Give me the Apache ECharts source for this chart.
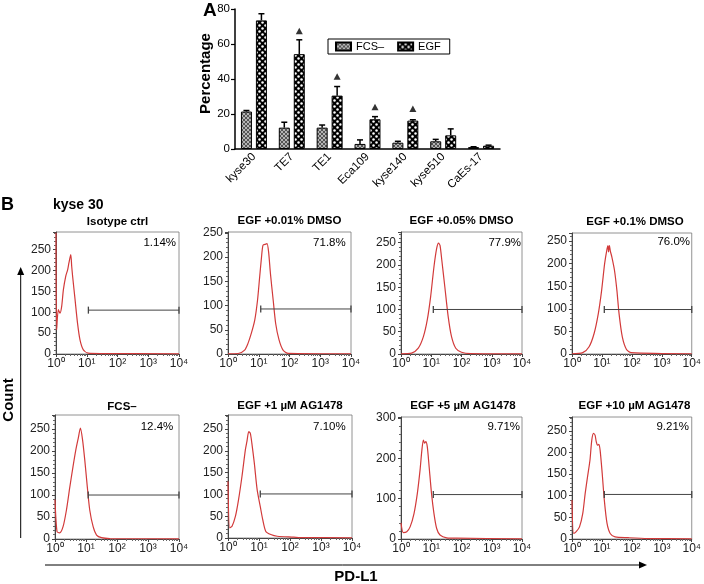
<!DOCTYPE html>
<html><head><meta charset="utf-8">
<script src="https://cdn.jsdelivr.net/npm/echarts@6.0.0/dist/echarts.min.js"></script>
<style>html,body{margin:0;padding:0;background:#fff}#c{width:704px;height:584px}</style>
</head><body><div id="c"></div><script>
// ---------- Panel A data ----------
const categories = ['kyse30', 'TE7', 'TE1', 'Eca109', 'kyse140', 'kyse510', 'CaEs-17'];
const fcsValues = [21.4, 12.2, 12.2, 2.9, 3.6, 4.4, 1.1];
const fcsErrors = [0.6, 3.1, 1.5, 2.3, 0.8, 1.1, 0.2];
const egfValues = [73.5, 54.2, 30.5, 17.0, 16.2, 7.8, 1.9];
const egfErrors = [3.8, 8.2, 5.2, 1.5, 0.5, 3.7, 0.3];
const markerHeights = [82, 67.5, 41.5, 24, 23, null, null];
const seriesNames = ['FCS–', 'EGF'];

// ---------- Panel B data (PD-L1 intensity, count) ----------
const histIsotype = [[1,290],[1.05,58],[1.19,106],[1.35,98],[1.53,114],[1.74,154],[2.07,186],[2.4,202],[2.63,218],[3.02,238],[3.24,210],[3.47,186],[4.17,130],[5.01,74],[6.03,34],[7.76,10],[11.2,2],[30,1],[10000,0.5]];
const histDmso001 = [[1,0.5],[2.14,1],[3.47,8],[4.47,22],[5.75,43],[7.41,70],[9.12,111],[10.7,159],[12.3,200],[13.8,225],[17.0,227],[18.6,228],[20.9,211],[24.0,166],[29.5,111],[35.5,63],[45.7,29],[61.7,8],[91.2,1.4],[10000,0.5]];
const histDmso005 = [[1,0.5],[2.24,2],[3.72,13],[5.5,39],[7.41,77],[9.55,129],[12.3,196],[15.1,237],[17.4,249],[19.5,244],[22.4,210],[28.2,150],[36.3,84],[46.8,39],[64.6,13],[100,4],[200,1],[10000,0.5]];
const histDmso01 = [[1,0.5],[2.29,3],[3.72,16],[5.5,46],[7.59,90],[9.77,141],[12.3,200],[14.8,233],[15.9,240],[16.6,226],[17.8,240],[19.1,228],[21.4,215],[26.3,185],[31.6,141],[37.2,90],[47.9,38],[66.1,10],[95.5,3],[10000,0.5]];
const histFcs = [[1,90],[1.16,17],[1.41,14],[1.82,28],[2.34,66],[3.02,119],[3.8,164],[4.68,202],[5.62,229],[6.61,252],[7.76,225],[9.12,180],[11.0,119],[13.2,66],[17.0,28],[21.9,9],[31.6,3],[58.9,1],[10000,0.5]];
const histAg1 = [[1,130],[1.13,23],[1.35,27],[1.74,50],[2.19,88],[2.82,141],[3.63,202],[4.07,221],[4.68,244],[5.25,240],[5.89,217],[7.08,171],[8.71,111],[11.0,72],[13.2,42],[16.6,15],[24.0,8],[38.9,4],[132,2],[214,1],[10000,0.5]];
const histAg5 = [[1,40],[1.19,16],[1.55,18],[2.0,30],[2.69,63],[3.47,113],[4.27,171],[4.9,220],[5.5,245],[6.03,237],[6.61,241],[7.41,228],[8.51,179],[10.2,113],[12.3,63],[15.1,26],[19.5,10],[32.4,3],[69.2,2],[10000,0.5]];
const histAg10 = [[1,90],[1.13,13],[1.38,17],[1.78,28],[2.29,59],[2.75,105],[3.31,144],[3.98,182],[4.57,228],[5.25,244],[5.89,240],[6.46,225],[7.08,217],[7.94,219],[8.71,205],[10.2,152],[12.0,90],[14.8,36],[19.1,12],[27.5,5],[75.9,3],[339,1],[10000,0.5]];

const panelTitles = ['Isotype ctrl', 'EGF +0.01% DMSO', 'EGF +0.05% DMSO', 'EGF +0.1% DMSO',
                     'FCS–', 'EGF +1 µM AG1478', 'EGF +5 µM AG1478', 'EGF +10 µM AG1478'];
const panelPercents = ['1.14%', '71.8%', '77.9%', '76.0%', '12.4%', '7.10%', '9.71%', '9.21%'];
const gateStarts = [11.3, 11.6, 11.7, 12.0, 11.8, 11.0, 11.7, 12.0];
const gateLevels = [105, 93, 100, 98.5, 100, 101, 110, 103];
const countMax = [292, 252, 274, 268, 282, 282, 302, 282];
const countInterval = [50, 50, 50, 50, 50, 50, 100, 50];
const logTickLabels = ['10⁰', '10¹', '10²', '10³', '10⁴'];
const histograms = [histIsotype, histDmso001, histDmso005, histDmso01, histFcs, histAg1, histAg5, histAg10];

// ---------- layout ----------
const FONT = '"Liberation Sans", Arial, Helvetica, sans-serif';
const histGrid = [
  {left:56, top:232, width:123, height:122},
  {left:228, top:232, width:123, height:122},
  {left:401, top:232, width:121, height:122},
  {left:572, top:233, width:123, height:121},
  {left:55, top:415, width:124, height:124},
  {left:228, top:415, width:124, height:123},
  {left:401, top:417, width:121, height:122},
  {left:572, top:417, width:123, height:122}
];
const titlePos = [[117.5,221.5],[289.5,220.7],[461.5,220.7],[635,221.5],[122,406.5],[290,406],[463,406],[634.5,406]];
const percentPos = [[176,242.7],[345.7,243],[521,242.7],[690,241.7],[173.3,427.3],[345.7,426.7],[520,426.7],[689,426.7]];

function makePattern(kind) {
  const c = document.createElement('canvas');
  if (kind === 'fcs') {
    c.width = 4; c.height = 4;
    const g = c.getContext('2d');
    g.fillStyle = '#b4b4b4'; g.fillRect(0, 0, 4, 4);
    g.fillStyle = '#555';
    [[0,0],[1,1],[2,2],[3,3],[3,0],[2,1],[1,2],[0,3]].forEach(p => g.fillRect(p[0], p[1], 1, 1));
  } else {
    c.width = 6; c.height = 6;
    const g = c.getContext('2d');
    g.fillStyle = '#000'; g.fillRect(0, 0, 6, 6);
    g.fillStyle = '#fff';
    [[1.5,1.5],[4.5,4.5]].forEach(p => { g.beginPath(); g.arc(p[0], p[1], 1.25, 0, Math.PI * 2); g.fill(); });
  }
  return {image: c, repeat: 'repeat'};
}

const grids = [], xAxes = [], yAxes = [], series = [];
histograms.forEach((h, i) => {
  grids.push(Object.assign({show: true, borderColor: '#777', borderWidth: 0.8, containLabel: false}, histGrid[i]));
  xAxes.push({
    type: 'log', logBase: 10, min: 1, max: 10000, gridIndex: i,
    axisLine: {show: true, lineStyle: {color: '#444', width: 1}},
    axisTick: {show: true, length: 3, lineStyle: {color: '#444'}},
    minorTick: {show: true, splitNumber: 9, length: 2, lineStyle: {color: '#666'}},
    splitLine: {show: false}, minorSplitLine: {show: false},
    axisLabel: {fontFamily: FONT, fontSize: 12, color: '#222', margin: 4,
      formatter: v => logTickLabels[Math.round(Math.log10(v))] || ''}
  });
  const iv = countInterval[i];
  yAxes.push({
    type: 'value', min: 0, max: countMax[i], interval: iv, gridIndex: i,
    axisLine: {show: true, lineStyle: {color: '#444', width: 1}},
    axisTick: {show: true, length: 3, lineStyle: {color: '#444'}},
    minorTick: {show: true, splitNumber: 5, length: 2, lineStyle: {color: '#666'}},
    splitLine: {show: false},
    axisLabel: {fontFamily: FONT, fontSize: 12, color: '#222', margin: 5,
      formatter: v => (Math.abs(v % iv) < 1e-6 ? String(v) : '')}
  });
  series.push({
    type: 'line', xAxisIndex: i, yAxisIndex: i, data: h, showSymbol: false, smooth: 0.25,
    lineStyle: {color: '#d23a3a', width: 1.2}, itemStyle: {color: '#d23a3a'}, silent: true, z: 3
  });
  series.push({
    type: 'line', xAxisIndex: i, yAxisIndex: i, clip: false,
    data: [[gateStarts[i], gateLevels[i]], [10000, gateLevels[i]]],
    symbol: 'rect', symbolSize: [1.3, 7], showSymbol: true,
    lineStyle: {color: '#444', width: 1}, itemStyle: {color: '#444'}, silent: true, z: 4
  });
});

// Panel A grid (index 8)
grids.push({left: 235, top: 9, width: 265, height: 140, show: false});
xAxes.push({
  type: 'category', data: categories, gridIndex: 8,
  axisLine: {show: true, lineStyle: {color: '#000', width: 1.5}},
  axisTick: {show: false},
  axisLabel: {rotate: 45, interval: 0, fontFamily: FONT, fontSize: 11.5, color: '#000', margin: 6}
});
yAxes.push({
  type: 'value', min: 0, max: 80, interval: 20, gridIndex: 8,
  axisLine: {show: true, lineStyle: {color: '#000', width: 1.5}},
  axisTick: {show: true, length: 4, lineStyle: {color: '#000', width: 1.2}},
  splitLine: {show: false},
  axisLabel: {fontFamily: FONT, fontSize: 11.5, color: '#000', margin: 5}
});
const fcsPattern = makePattern('fcs');
const egfPattern = makePattern('egf');
series.push({
  name: seriesNames[0], type: 'bar', xAxisIndex: 8, yAxisIndex: 8, data: fcsValues,
  barWidth: 11, barGap: '36%',
  itemStyle: {color: fcsPattern, borderColor: '#000', borderWidth: 1}
});
series.push({
  name: seriesNames[1], type: 'bar', xAxisIndex: 8, yAxisIndex: 8, data: egfValues,
  barWidth: 11, barGap: '36%',
  itemStyle: {color: egfPattern, borderColor: '#000', borderWidth: 1}
});
const errData = [];
fcsValues.forEach((v, i) => errData.push([i, v, fcsErrors[i], -1]));
egfValues.forEach((v, i) => errData.push([i, v, egfErrors[i], 1]));
series.push({
  type: 'custom', xAxisIndex: 8, yAxisIndex: 8, data: errData, encode: {x: 0, y: 1}, z: 5, silent: true,
  renderItem: (params, api) => {
    const base = api.coord([api.value(0), api.value(1)]);
    const top = api.coord([api.value(0), api.value(1) + api.value(2)]);
    const x = base[0] + api.value(3) * 7.5;
    return {type: 'group', children: [
      {type: 'line', shape: {x1: x, y1: base[1], x2: x, y2: top[1]}, style: {stroke: '#000', lineWidth: 1.5}},
      {type: 'line', shape: {x1: x - 3, y1: top[1], x2: x + 3, y2: top[1]}, style: {stroke: '#000', lineWidth: 1.5}}
    ]};
  }
});
series.push({
  type: 'scatter', xAxisIndex: 8, yAxisIndex: 8, symbol: 'triangle', symbolSize: [7, 6.5],
  symbolOffset: [7.5, 0], itemStyle: {color: '#000'}, silent: true,
  data: markerHeights.map((h, i) => (h === null ? null : [i, h])).filter(d => d !== null)
});

// annotations
const txt = (text, x, y, font, align, vAlign, rot) => ({
  type: 'text', x: x, y: y, rotation: rot || 0, silent: true,
  style: {text: text, font: font, fill: '#000', textAlign: align || 'center', textVerticalAlign: vAlign || 'middle'}
});
const graphics = [
  txt('A', 203, 11, 'bold 19px ' + FONT, 'left'),
  txt('Percentage', 206, 73.5, 'bold 15px ' + FONT, 'center', 'middle', Math.PI / 2),
  txt('B', 1, 205, 'bold 18px ' + FONT, 'left'),
  txt('kyse 30', 53, 205, 'bold 14px ' + FONT, 'left'),
  txt('Count', 9, 400, 'bold 15px ' + FONT, 'center', 'middle', Math.PI / 2),
  txt('PD-L1', 356, 577, 'bold 15px ' + FONT, 'center'),
  {type: 'line', silent: true, shape: {x1: 20.7, y1: 538, x2: 20.7, y2: 274}, style: {stroke: '#000', lineWidth: 1}},
  {type: 'polygon', silent: true, shape: {points: [[20.7, 267], [17.2, 275], [24.2, 275]]}, style: {fill: '#000'}},
  {type: 'line', silent: true, shape: {x1: 45, y1: 565, x2: 640, y2: 565}, style: {stroke: '#000', lineWidth: 1}},
  {type: 'polygon', silent: true, shape: {points: [[647, 565], [639, 561.5], [639, 568.5]]}, style: {fill: '#000'}}
];
panelTitles.forEach((t, i) => graphics.push(txt(t, titlePos[i][0], titlePos[i][1], 'bold 11.5px ' + FONT, 'center')));
panelPercents.forEach((t, i) => graphics.push(txt(t, percentPos[i][0], percentPos[i][1], '11.5px ' + FONT, 'right')));

const chart = echarts.init(document.getElementById('c'), null, {renderer: 'canvas'});
chart.setOption({
  animation: false,
  backgroundColor: '#fff',
  textStyle: {fontFamily: FONT},
  legend: {
    data: seriesNames, left: 328, top: 39, orient: 'horizontal',
    borderColor: '#000', borderWidth: 1, padding: [2, 9, 2, 7],
    itemWidth: 15, itemHeight: 8, itemGap: 13, icon: 'rect',
    textStyle: {fontFamily: FONT, fontSize: 11, color: '#000'}
  },
  grid: grids, xAxis: xAxes, yAxis: yAxes, series: series,
  graphic: {elements: graphics}
});
</script></body></html>
